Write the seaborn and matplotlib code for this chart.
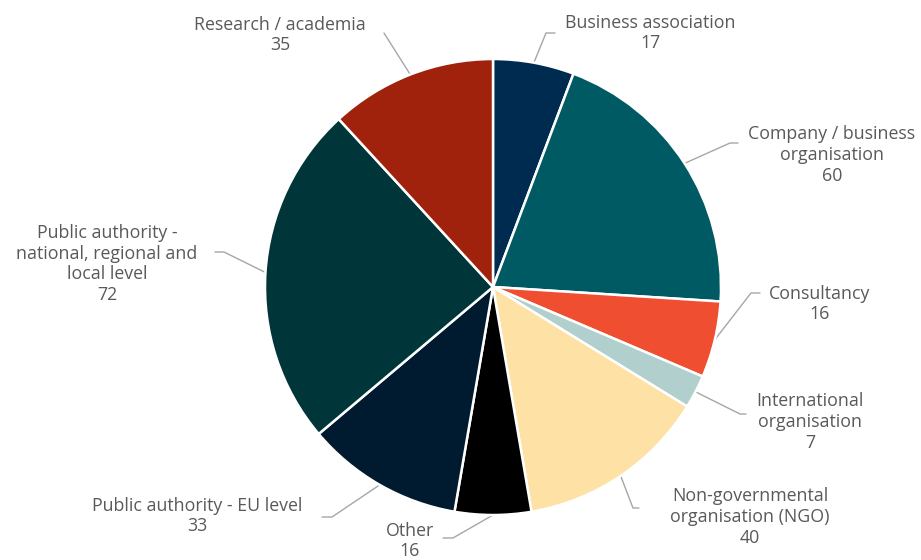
import numpy as np
import matplotlib
matplotlib.use("Agg")
import matplotlib.pyplot as plt
import seaborn as sns

# data
categories = ["Business association", "Company / business\norganisation", "Consultancy",
              "International\norganisation", "Non-governmental\norganisation (NGO)", "Other",
              "Public authority - EU level", "Public authority -\nnational, regional and\nlocal level",
              "Research / academia"]
counts = [17, 60, 16, 7, 40, 16, 33, 72, 35]
colors = ["#002B50", "#005A63", "#F04E30", "#B1CFCC", "#FDE1A5", "#000000",
          "#001A30", "#00363A", "#A0220D"]

# layout in pixel coords (top-left origin): text centre, leader line points
label_pos = [(650, 33), (832, 155), (820, 304), (810, 422), (750, 517),
             (410, 541), (197, 516), (107, 264), (280, 35)]
leader_pts = [[(546, 33), (555, 33)], [(730, 143), (738, 143)], [(751, 293), (760, 293)],
              [(740, 414), (746, 414)], [(633, 508), (639, 508)], [(453, 538), (443, 538)],
              [(332, 517), (322, 517)], [(224, 252), (215, 252)], [(384, 33)]]

W, H = 921, 560
cx, cy, r = 493, 287, 228

sns.set_theme(style="white")
plt.rcParams["font.family"] = ["Open Sans", "DejaVu Sans"]

fig = plt.figure(figsize=(9.21, 5.6), dpi=100)
ax = fig.add_axes([0, 0, 1, 1])

wedges, _ = ax.pie(counts, colors=colors, startangle=90, counterclock=False,
                   center=(cx, H - cy), radius=r, frame=True,
                   wedgeprops=dict(edgecolor="white", linewidth=1.8))
ax.set_xlim(0, W)
ax.set_ylim(0, H)
ax.set_aspect("equal")
ax.axis("off")

for w, lab, n, (tx, ty), pts in zip(wedges, categories, counts, label_pos, leader_pts):
    ang = np.deg2rad((w.theta1 + w.theta2) / 2)
    x0 = cx + r * np.cos(ang)
    y0 = (H - cy) + r * np.sin(ang)
    xs = [x0] + [p[0] for p in pts]
    ys = [y0] + [H - p[1] for p in pts]
    ax.plot(xs, ys, color="#A6A6A6", lw=1.0, zorder=0)
    ax.text(tx, H - ty, f"{lab}\n{n}", ha="center", va="center", fontsize=12.8,
            color="#595959", linespacing=1.2)

fig.savefig("out.png", dpi=100)
